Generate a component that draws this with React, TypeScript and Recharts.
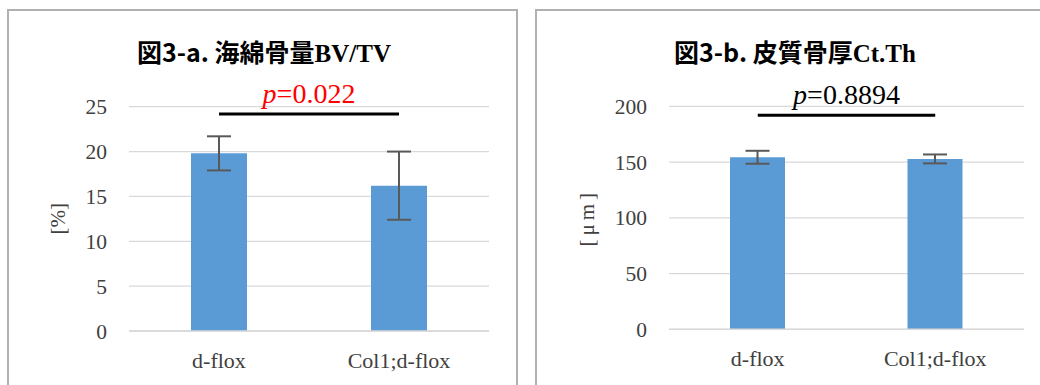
import React from 'react';
import { BarChart, Bar, XAxis, YAxis, CartesianGrid, ErrorBar, ReferenceLine } from 'recharts';

// ---- data ----
const categories = ['d-flox', 'Col1;d-flox'];

const bvtvValues = [19.8, 16.2];
const bvtvErrors = [1.9, 3.8];
const bvtvTicks = [0, 5, 10, 15, 20, 25];

const cortValues = [154.3, 152.8];
const cortErrors = [5.8, 4.0];
const cortTicks = [0, 50, 100, 150, 200];

const titleA = ['図3-a. 海綿骨量', 'BV/TV'];
const titleB = ['図3-b. 皮質骨厚', 'Ct.Th'];
const yLabelA = '[%]';
const yLabelB = '[μm]';
const pValueA = '0.022';
const pValueB = '0.8894';
const sigLevelA = 24.2;
const sigLevelB = 191.9;

const dataA = categories.map((c, i) => ({ name: c, value: bvtvValues[i], err: bvtvErrors[i] }));
const dataB = categories.map((c, i) => ({ name: c, value: cortValues[i], err: cortErrors[i] }));

const SERIF = "'Times New Roman', 'Noto Serif CJK JP', serif";
const GOTHIC = "'Noto Sans CJK JP', sans-serif";
const BAR = '#5b9bd5';
const GRID = '#d9d9d9';
const TICK = '#404040';

const makePLabel = (value: string, color: string) => (props: any) => {
  const vb = props.viewBox || {};
  const cx = (vb.x || 0) + (vb.width || 0) / 2;
  const y = (vb.y || 0) - 11;
  return (
    <text x={cx} y={y} textAnchor="middle" fontSize={28} fontFamily={SERIF} fill={color}>
      <tspan fontStyle="italic">p</tspan>
      <tspan>={value}</tspan>
    </text>
  );
};

type PanelProps = {
  data: any[];
  ticks: number[];
  domainMax: number;
  margin: any;
  barSize: number;
  yLabel: string;
  labelOffset: number;
  sigLevel: number;
  pValue: string;
  pColor: string;
  labelSpacing?: number;
};

function Panel(p: PanelProps) {
  return (
    <BarChart width={520} height={385} data={p.data} margin={p.margin}>
      <CartesianGrid horizontal vertical={false} stroke={GRID} strokeWidth={1.3} />
      <XAxis
        dataKey="name"
        height={30}
        axisLine={{ stroke: GRID, strokeWidth: 1.6 }}
        tickLine={false}
        tickMargin={15}
        tick={{ fill: TICK, fontSize: 22, fontFamily: SERIF }}
      />
      <YAxis
        width={89}
        domain={[0, p.domainMax]}
        ticks={p.ticks}
        interval={0}
        axisLine={false}
        tickLine={false}
        tickMargin={16}
        tick={{ fill: TICK, fontSize: 21.5, fontFamily: SERIF }}
        label={{
          value: p.yLabel,
          angle: -90,
          position: 'insideLeft',
          offset: p.labelOffset,
          fill: TICK,
          fontSize: 21,
          fontFamily: SERIF,
          style: { textAnchor: 'middle', letterSpacing: p.labelSpacing ?? 0 },
        }}
      />
      <Bar dataKey="value" fill={BAR} barSize={p.barSize} isAnimationActive={false}>
        <ErrorBar dataKey="err" width={12} stroke="#595959" strokeWidth={2} />
      </Bar>
      <ReferenceLine
        segment={[
          { x: categories[0], y: p.sigLevel },
          { x: categories[1], y: p.sigLevel },
        ]}
        stroke="#000000"
        strokeWidth={3}
        ifOverflow="visible"
        label={makePLabel(p.pValue, p.pColor)}
      />
    </BarChart>
  );
}

function Title({ x, parts }: { x: number; parts: string[] }) {
  return (
    <text x={x} y={62} textAnchor="middle" fontSize={25} fontWeight="bold" fill="#000">
      <tspan fontFamily={GOTHIC}>{parts[0]}</tspan>
      <tspan fontFamily={SERIF}>{parts[1]}</tspan>
    </text>
  );
}

export default function App() {
  return (
    <div
      style={{
        position: 'absolute',
        left: 0,
        top: 0,
        width: 1040,
        height: 385,
        overflow: 'hidden',
        background: '#ffffff',
        fontFamily: SERIF,
      }}
    >
      <div
        style={{
          position: 'absolute',
          left: 7,
          top: 9,
          width: 511,
          height: 420,
          border: '2px solid #b0b0b0',
          boxSizing: 'border-box',
        }}
      />
      <div
        style={{
          position: 'absolute',
          left: 535,
          top: 9,
          width: 600,
          height: 420,
          border: '2px solid #b0b0b0',
          boxSizing: 'border-box',
        }}
      />
      <div style={{ position: 'absolute', left: 0, top: 0 }}>
        <Panel
          data={dataA}
          ticks={bvtvTicks}
          domainMax={25}
          margin={{ top: 106.7, right: 31, bottom: 24, left: 40 }}
          barSize={56}
          yLabel={yLabelA}
          labelOffset={18}
          sigLevel={sigLevelA}
          pValue={pValueA}
          pColor="#ff0000"
        />
      </div>
      <div style={{ position: 'absolute', left: 520, top: 0 }}>
        <Panel
          data={dataB}
          ticks={cortTicks}
          domainMax={200}
          margin={{ top: 106.3, right: 16, bottom: 25.7, left: 60 }}
          barSize={55}
          yLabel={yLabelB}
          labelOffset={7}
          sigLevel={sigLevelB}
          pValue={pValueB}
          pColor="#000000"
          labelSpacing={4}
        />
      </div>
      <svg
        width={1040}
        height={385}
        style={{ position: 'absolute', left: 0, top: 0, pointerEvents: 'none' }}
      >
        <Title x={264} parts={titleA} />
        <Title x={795} parts={titleB} />
      </svg>
    </div>
  );
}
